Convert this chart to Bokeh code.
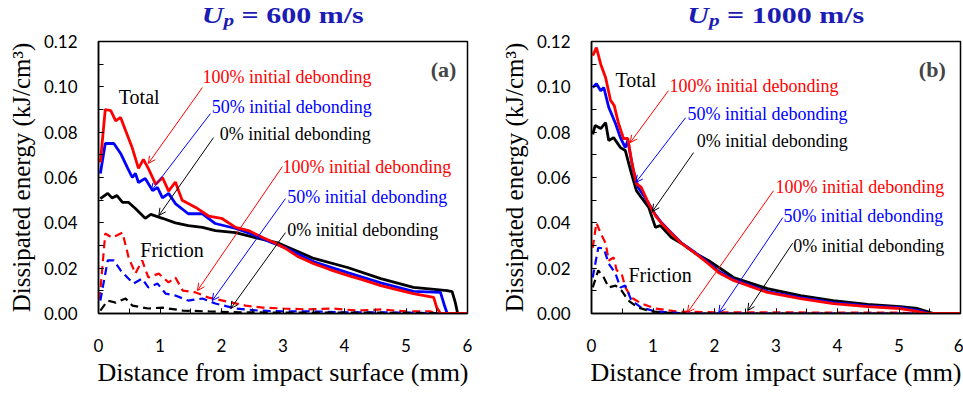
from bokeh.plotting import figure
from bokeh.layouts import row, column
from bokeh.models import (Range1d, SingleIntervalTicker, NumeralTickFormatter,
                          Arrow, OpenHead, Label, ColumnDataSource, Div)
from bokeh.core.properties import value
from bokeh.embed import file_html
from bokeh.resources import INLINE

# ---------------- data: panel (a) Up = 600 m/s ----------------
a_tot100_x = [0.03,0.11,0.2,0.28,0.36,0.44,0.55,0.65,0.73,0.81,0.93,1.04,1.14,1.25,1.36,1.58,1.79,2.0,2.23,2.44,2.67,2.88,3.04,3.25,3.5,3.75,4.05,4.3,4.59,4.85,5.12,5.45,5.5,5.56,6.0]
a_tot100_y = [0.0667,0.090,0.0895,0.085,0.0865,0.0807,0.073,0.064,0.068,0.064,0.057,0.060,0.054,0.058,0.050,0.0468,0.043,0.042,0.038,0.0366,0.0335,0.031,0.0287,0.025,0.022,0.0195,0.0168,0.0148,0.0123,0.0105,0.0088,0.0071,0.0026,0.0,0.0]
a_tot50_x = [0.03,0.11,0.25,0.36,0.47,0.55,0.6,0.65,0.76,0.88,0.96,1.04,1.14,1.25,1.46,1.69,1.9,2.23,2.5,2.8,3.04,3.5,4.05,4.59,5.12,5.56,5.62,5.67,6.0]
a_tot50_y = [0.0618,0.075,0.075,0.0706,0.0644,0.060,0.0618,0.0578,0.0596,0.0542,0.0556,0.051,0.053,0.0485,0.044,0.044,0.0397,0.0375,0.035,0.0315,0.029,0.0228,0.018,0.0135,0.0098,0.0093,0.004,0.0,0.0]
a_tot0_x = [0.03,0.15,0.22,0.3,0.39,0.49,0.6,0.76,0.85,1.04,1.25,1.46,1.69,1.9,2.23,2.55,2.93,3.5,4.05,4.59,5.12,5.67,5.75,5.8,5.84,6.0]
a_tot0_y = [0.0507,0.053,0.051,0.052,0.049,0.049,0.0463,0.042,0.0437,0.042,0.040,0.0388,0.038,0.0366,0.0357,0.0335,0.031,0.0243,0.0203,0.0154,0.0115,0.0101,0.0097,0.005,0.0,0.0]
a_fr100_x = [0.0,0.03,0.11,0.22,0.39,0.49,0.6,0.71,0.81,0.98,1.14,1.25,1.37,1.58,1.79,2.02,2.39,2.67,3.0,3.4,3.8,4.2,4.6,5.0,5.4,5.5,6.0]
a_fr100_y = [0.006,0.0101,0.0353,0.0335,0.0357,0.0247,0.0176,0.0234,0.0159,0.0176,0.0137,0.0159,0.0101,0.0093,0.007,0.0057,0.0035,0.0026,0.0022,0.0018,0.0022,0.0013,0.0018,0.0009,0.0009,0.0,0.0]
a_fr50_x = [0.03,0.15,0.25,0.36,0.47,0.57,0.71,0.81,0.96,1.09,1.25,1.46,1.69,1.9,2.23,2.6,3.0,3.5,4.0,4.5,5.0,5.6,6.0]
a_fr50_y = [0.0057,0.0234,0.0234,0.019,0.0159,0.0132,0.0154,0.0115,0.0132,0.0088,0.0079,0.0057,0.0066,0.0044,0.0022,0.0013,0.0009,0.0009,0.0005,0.0005,0.0004,0.0,0.0]
a_fr0_x = [0.03,0.15,0.28,0.44,0.55,0.81,1.04,1.37,1.8,2.3,3.0,4.0,5.0,5.8,6.0]
a_fr0_y = [0.0013,0.0057,0.0048,0.0066,0.0035,0.0022,0.0026,0.0013,0.0009,0.0005,0.0004,0.0004,0.0003,0.0,0.0]

# ---------------- data: panel (b) Up = 1000 m/s ----------------
b_tot100_x = [0.02,0.08,0.15,0.23,0.31,0.37,0.44,0.52,0.59,0.65,0.73,0.81,0.93,1.04,1.14,1.30,1.46,1.69,1.9,2.07,2.31,2.86,3.4,3.93,4.49,5.02,5.3,5.46,6.0]
b_tot100_y = [0.1138,0.1173,0.110,0.104,0.094,0.0917,0.0838,0.0772,0.0772,0.0675,0.0573,0.0556,0.0485,0.0432,0.0397,0.0353,0.031,0.0265,0.022,0.018,0.0146,0.0093,0.0066,0.0044,0.003,0.0022,0.0009,0.0,0.0]
b_tot50_x = [0.02,0.08,0.15,0.2,0.28,0.39,0.47,0.55,0.59,0.68,0.76,0.85,0.93,1.04,1.14,1.30,1.46,1.69,1.9,2.07,2.31,2.86,3.4,3.93,4.49,5.02,5.3,5.5,6.0]
b_tot50_y = [0.0997,0.1014,0.0983,0.0997,0.091,0.0838,0.0776,0.0732,0.0763,0.063,0.0556,0.052,0.0485,0.0435,0.040,0.0355,0.0312,0.0268,0.0225,0.0185,0.015,0.0097,0.007,0.0048,0.0034,0.0026,0.0014,0.0,0.0]
b_tot0_x = [0.02,0.06,0.15,0.23,0.28,0.36,0.47,0.55,0.65,0.73,0.81,0.93,1.04,1.12,1.30,1.46,1.69,1.9,2.07,2.31,2.86,3.4,3.93,4.49,5.02,5.3,5.5,5.56,6.0]
b_tot0_y = [0.079,0.083,0.0816,0.0842,0.0763,0.0776,0.0732,0.0719,0.0617,0.0542,0.0512,0.0468,0.038,0.0388,0.0335,0.031,0.0265,0.0234,0.0203,0.0159,0.011,0.0079,0.0057,0.004,0.003,0.0022,0.0005,0.0,0.0]
b_fr100_x = [0.02,0.08,0.15,0.23,0.28,0.36,0.41,0.49,0.55,0.65,0.81,1.04,1.37,2.0,3.0,4.0,5.0,5.3,6.0]
b_fr100_y = [0.029,0.040,0.0353,0.031,0.0234,0.0247,0.019,0.0176,0.0115,0.007,0.0044,0.0022,0.0009,0.0005,0.0005,0.0004,0.0004,0.0,0.0]
b_fr50_x = [0.02,0.11,0.2,0.28,0.39,0.47,0.55,0.65,0.81,1.04,1.5,6.0]
b_fr50_y = [0.0159,0.029,0.0287,0.022,0.0176,0.0115,0.0123,0.0057,0.0026,0.0009,0.0,0.0]
b_fr0_x = [0.02,0.11,0.2,0.28,0.39,0.49,0.6,0.76,0.98,1.4,6.0]
b_fr0_y = [0.0115,0.019,0.0159,0.0115,0.0123,0.0101,0.0057,0.0026,0.0009,0.0,0.0]

# ---------------- annotation texts ----------------
series_labels = ["100% initial debonding", "50% initial debonding", "0% initial debonding"]
series_colors = ["#ff0000", "#0000ff", "#000000"]
group_labels = ["Total", "Friction"]
panel_tags = ["(a)", "(b)"]
panel_speeds = ["600 m/s", "1000 m/s"]

# annotation positions (data coords)
a_label_pos = [(1.69, 0.1045), (1.84, 0.0913), (1.97, 0.079),
               (2.99, 0.0648), (3.07, 0.0512), (3.07, 0.037)]
a_arrows = [((1.69, 0.0997), (0.81, 0.0662)), ((1.82, 0.0882), (0.86, 0.0542)),
            ((1.87, 0.0776), (0.98, 0.0432)), ((2.99, 0.0648), (1.61, 0.0101)),
            ((3.04, 0.0507), (1.85, 0.0057)), ((3.04, 0.0357), (2.15, 0.0022))]
a_group_pos = [(0.33, 0.0953), (0.68, 0.0282)]
b_label_pos = [(1.27, 0.1005), (1.56, 0.0882), (1.71, 0.0759),
               (2.99, 0.0556), (3.12, 0.0432), (3.28, 0.030)]
b_arrows = [((1.25, 0.0983), (0.63, 0.0754)), ((1.53, 0.0864), (0.72, 0.0578)),
            ((1.66, 0.071), (0.99, 0.045)), ((2.96, 0.0542), (1.56, 0.0004)),
            ((3.11, 0.0423), (2.07, 0.0004)), ((3.27, 0.031), (2.54, 0.0013))]
b_group_pos = [(0.39, 0.1028), (0.60, 0.0172)]

SERIF = "Liberation Serif"
SANS = "Lato"
TITLE_BLUE = "#1c1cb4"
DIV_H = 29
FIG_H = 366
TOP_B = 12


def build(width, left_border, right_border, tot, fr, label_pos, arrows, group_pos,
          tag, tag_x):
    p = figure(width=width, height=FIG_H, output_backend="svg", toolbar_location=None,
               x_range=Range1d(0, 6), y_range=Range1d(0, 0.12),
               min_border_left=left_border, min_border_right=right_border,
               min_border_top=TOP_B, min_border_bottom=FIG_H - TOP_B - 272)
    p.grid.visible = False
    p.outline_line_color = "black"
    p.outline_line_width = 1.5
    p.background_fill_color = "white"
    p.border_fill_color = "white"

    p.xaxis.ticker = SingleIntervalTicker(interval=1, num_minor_ticks=2)
    p.yaxis.ticker = SingleIntervalTicker(interval=0.02, num_minor_ticks=2)
    p.yaxis.formatter = NumeralTickFormatter(format="0.00")
    for ax in (p.xaxis[0], p.yaxis[0]):
        ax.axis_line_color = "black"
        ax.axis_line_width = 1.5
        ax.major_tick_in = 5
        ax.major_tick_out = 0
        ax.minor_tick_in = 5
        ax.minor_tick_out = 0
        ax.major_tick_line_color = "black"
        ax.minor_tick_line_color = "black"
        ax.major_label_text_font = SANS
        ax.major_label_text_font_size = "17px"
        ax.major_label_text_color = "black"
        ax.axis_label_text_font = SERIF
        ax.axis_label_text_font_style = "normal"
        ax.axis_label_text_color = "black"
    p.xaxis.axis_label_text_font_size = "26px"
    p.yaxis.axis_label_text_font_size = "25px"
    p.xaxis.major_label_standoff = 25
    p.yaxis.major_label_standoff = 21
    p.xaxis.axis_label = "Distance from impact surface (mm)"
    p.yaxis.axis_label = "Dissipated energy (kJ/cm³)"
    p.xaxis.axis_label_standoff = 3
    p.yaxis.axis_label_standoff = 6

    # friction (dashed) first, then totals
    for (xs, ys), c in zip(fr, series_colors):
        p.line(xs, ys, line_color=c, line_width=2.2, line_dash="8 5")
    for (xs, ys), c in zip(reversed(tot), reversed(series_colors)):
        p.line(xs, ys, line_color=c, line_width=2.8)

    # arrows
    for ((x0, y0), (x1, y1)), c in zip(arrows, series_colors * 2):
        p.add_layout(Arrow(end=OpenHead(size=7, line_color=c, line_width=1),
                           x_start=x0, y_start=y0, x_end=x1, y_end=y1,
                           line_color=c, line_width=1))

    src = ColumnDataSource(dict(
        x=[q[0] for q in label_pos], y=[q[1] for q in label_pos],
        t=series_labels * 2, c=series_colors * 2))
    p.text(x="x", y="y", text="t", text_color="c", source=src,
           text_font=value(SERIF), text_font_size="18px",
           text_align="left", text_baseline="middle")

    gsrc = ColumnDataSource(dict(x=[q[0] for q in group_pos], y=[q[1] for q in group_pos],
                                 t=group_labels))
    p.text(x="x", y="y", text="t", source=gsrc, text_color="black",
           text_font=value(SERIF), text_font_size="20px",
           text_align="left", text_baseline="middle")

    p.add_layout(Label(x=tag_x, y=0.1076, text=tag, text_font=SERIF,
                       text_font_size="22px", text_font_style="bold",
                       text_align="right", text_baseline="middle"))
    return p


def title_div(width, left, frame_w, speed):
    html = (f'<div style="width:{frame_w}px;margin-left:{left}px;text-align:center;'
            f"font-family:'Liberation Serif';font-size:24px;font-weight:bold;"
            f'color:{TITLE_BLUE};line-height:24px;padding-top:3px;white-space:nowrap;">'
            f'<span style="display:inline-block;transform:scaleX(1.25);">'
            f'<i>U<span style="font-size:17px;position:relative;top:3px;">p</span></i>'
            f' = {speed}</span></div>')
    return Div(text=html, width=width, height=DIV_H, margin=(0, 0, 0, 0))


pa = build(480, 98, 13,
           [(a_tot100_x, a_tot100_y), (a_tot50_x, a_tot50_y), (a_tot0_x, a_tot0_y)],
           [(a_fr100_x, a_fr100_y), (a_fr50_x, a_fr50_y), (a_fr0_x, a_fr0_y)],
           a_label_pos, a_arrows, a_group_pos, panel_tags[0], 5.82)
pb = build(483, 111, 3,
           [(b_tot100_x, b_tot100_y), (b_tot50_x, b_tot50_y), (b_tot0_x, b_tot0_y)],
           [(b_fr100_x, b_fr100_y), (b_fr50_x, b_fr50_y), (b_fr0_x, b_fr0_y)],
           b_label_pos, b_arrows, b_group_pos, panel_tags[1], 5.76)

da = title_div(480, 98, 369, panel_speeds[0])
db = title_div(483, 111, 369, panel_speeds[1])

layout = column(row(da, db, spacing=0), row(pa, pb, spacing=0), spacing=0)
open("out.html", "w").write(file_html(layout, INLINE))
